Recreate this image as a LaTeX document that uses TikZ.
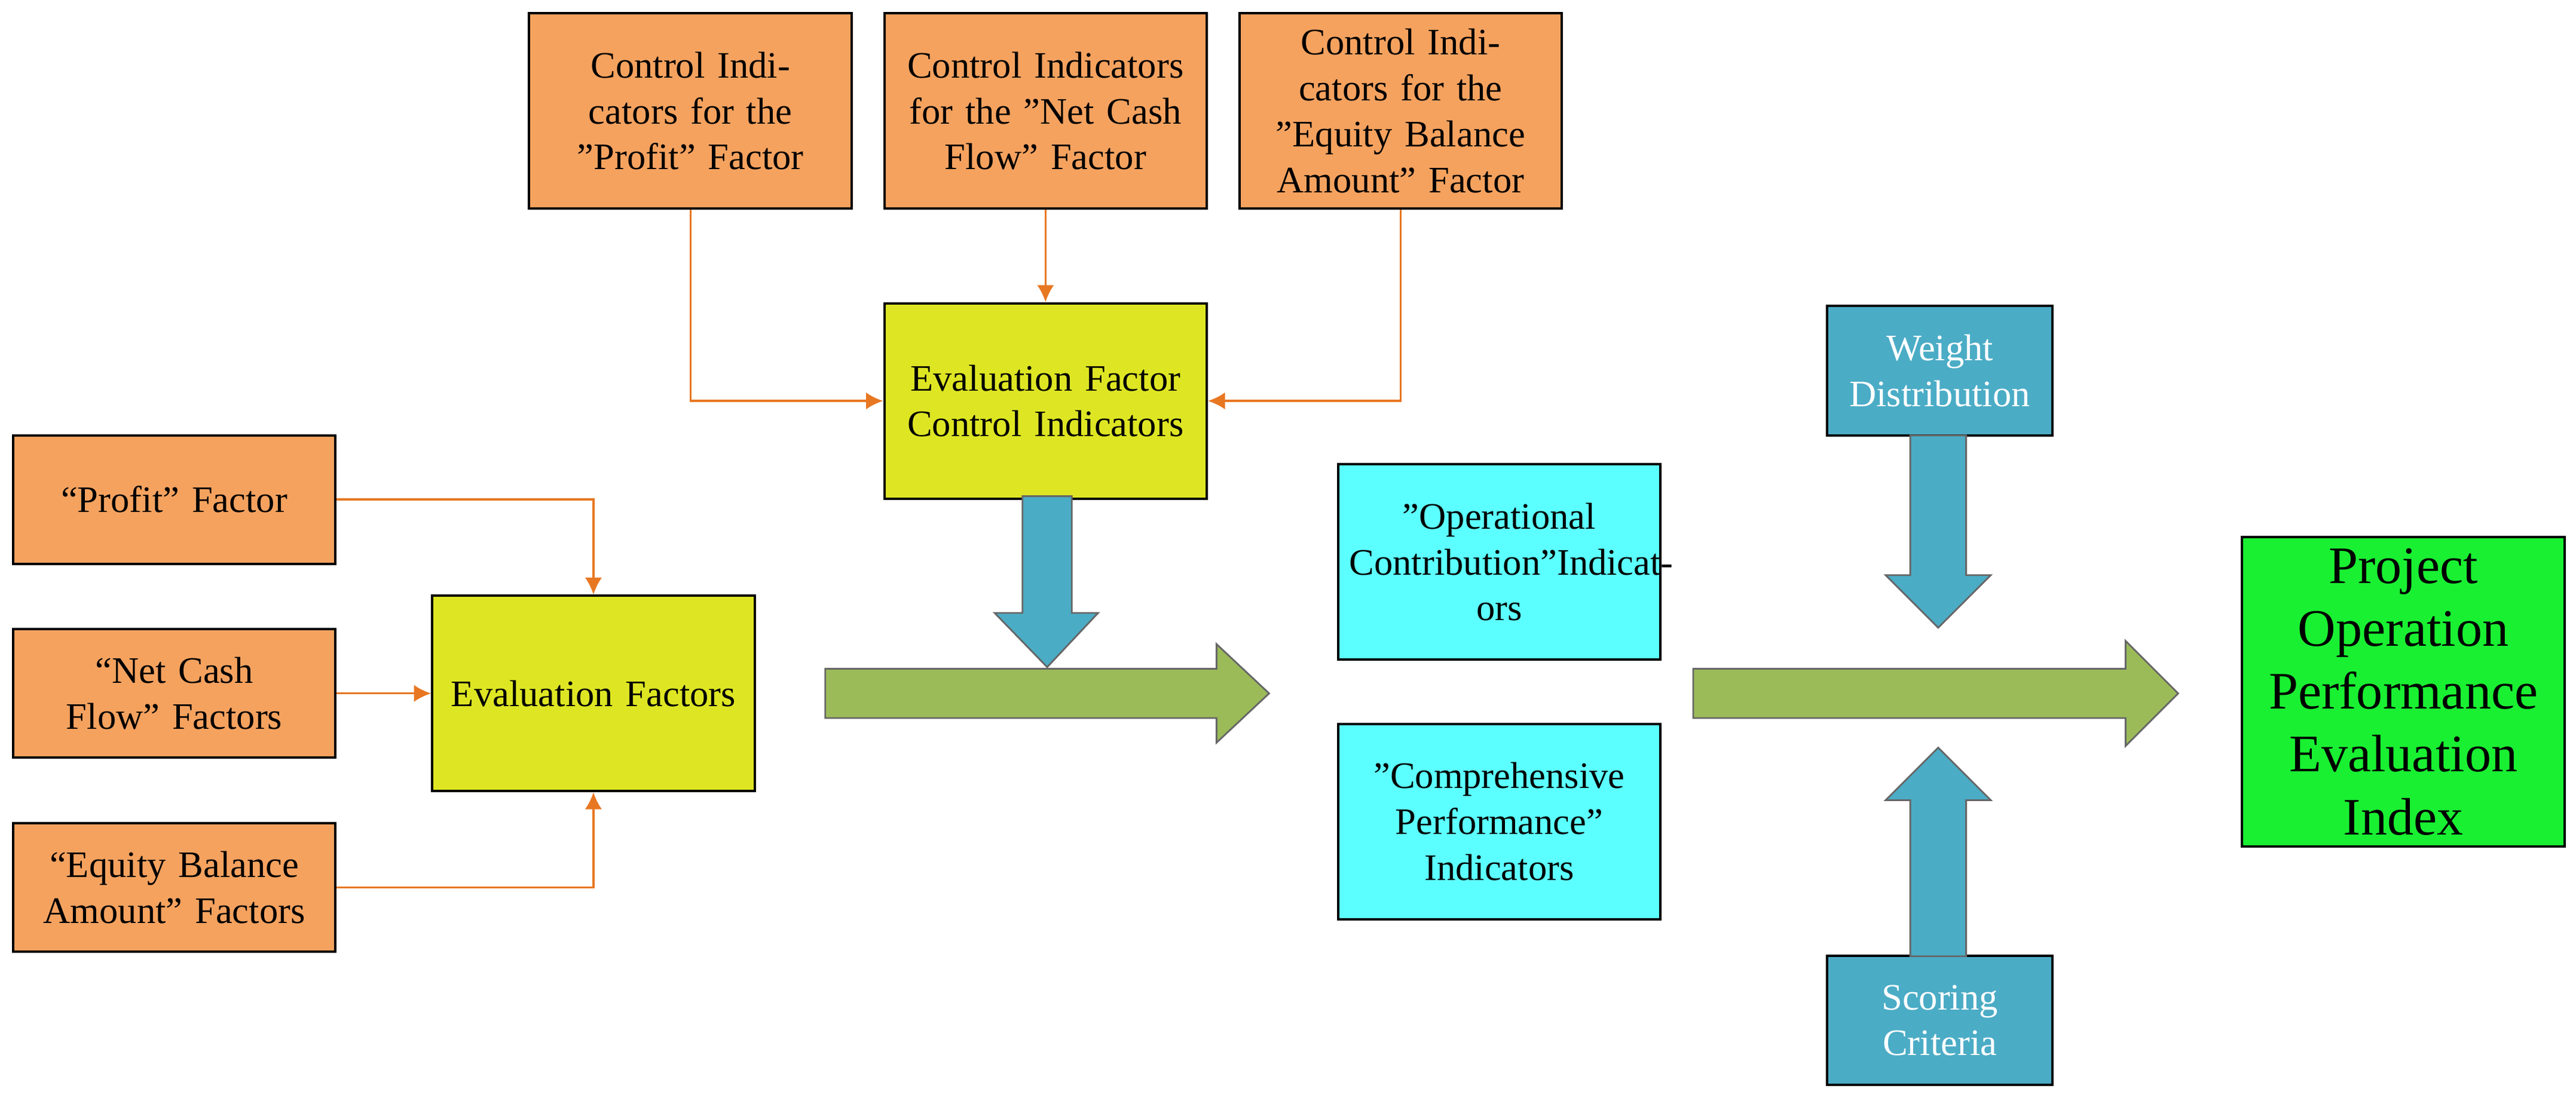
\documentclass[tikz,border=0pt]{standalone}
\usepackage{fontspec}
\setmainfont{Liberation Serif}
\usepackage{xcolor}
\usetikzlibrary{arrows.meta}
\definecolor{boxorange}{RGB}{245,162,95}
\definecolor{boxyellow}{RGB}{222,230,35}
\definecolor{boxcyan}{RGB}{92,255,255}
\definecolor{boxblue}{RGB}{75,172,198}
\definecolor{boxgreen}{RGB}{25,240,50}
\definecolor{fatgreen}{RGB}{155,187,89}
\definecolor{linkorange}{RGB}{232,119,34}

\begin{document}
\begin{tikzpicture}[x=0.017cm,y=-0.017cm,
    box/.style={draw=black,line width=0.7pt,minimum width=3.33cm,minimum height=2.02cm,
      text width=3.1cm,align=center,font=\fontsize{11}{13.5}\selectfont},
    small/.style={box,minimum width=2.28cm,minimum height=1.34cm,text width=2.1cm},
    link/.style={draw=linkorange,line width=0.6pt,-{Latex[length=5pt,width=5pt]}},
    fat/.style={draw=black!60,line width=0.5pt}]
    \useasboundingbox (0,0) rectangle (1567,670);

    % control indicator boxes
    \node[box,fill=boxorange] (cprofit) at (420,67.5) {Control Indicators for the "Profit" Factor};
    \node[box,fill=boxorange] (ccash) at (636,67.5) {Control Indicators for the "Net Cash Flow" Factor};
    \node[box,fill=boxorange] (cequity) at (852,67.5) {Control Indicators for the "Equity Balance Amount" Factor};
    \node[box,fill=boxyellow] (efci) at (636,244) {Evaluation Factor Control Indicators};

    % factor boxes
    \node[box,fill=boxorange,minimum height=1.33cm] (profit) at (106,304) {``Profit'' Factor};
    \node[box,fill=boxorange,minimum height=1.33cm] (cash) at (106,422) {``Net Cash Flow'' Factors};
    \node[box,fill=boxorange,minimum height=1.33cm] (equity) at (106,540) {``Equity Balance Amount'' Factors};
    \node[box,fill=boxyellow] (factors) at (361,422) {Evaluation Factors};

    % indicators
    \node[box,fill=boxcyan] (opcon) at (912,342) {"Operational Contribution"Indicat\-ors};
    \node[box,fill=boxcyan] (comp) at (912,500) {"Comprehensive Performance" Indicators};
    \node[small,fill=boxblue,text=white] (weight) at (1180,225.5) {Weight Distribution};
    \node[small,fill=boxblue,text=white] (scoring) at (1180,621) {Scoring Criteria};
    \node[box,fill=boxgreen,minimum height=3.06cm,font=\fontsize{15.5}{18.5}\selectfont] (index) at (1462,421) {Project Operation Performance Evaluation Index};

    % connectors
    \draw[link] (cprofit.south) |- (efci.west);
    \draw[link] (ccash.south) -- (efci.north);
    \draw[link] (cequity.south) |- (efci.east);
    \draw[link] (profit.east) -| (factors.north);
    \draw[link] (cash.east) -- (factors.west);
    \draw[link] (equity.east) -| (factors.south);

    % fat arrows
    \draw[fat,fill=fatgreen] (502,407) -- (740,407) -- (740,392) -- (772,422) -- (740,452) -- (740,437) -- (502,437) -- cycle;
    \draw[fat,fill=fatgreen] (1030,407) -- (1293,407) -- (1293,390) -- (1325,422) -- (1293,454) -- (1293,437) -- (1030,437) -- cycle;
    \draw[fat,fill=boxblue] (622,302) -- (652,302) -- (652,373) -- (668,373) -- (637,406) -- (605,373) -- (622,373) -- cycle;
    \draw[fat,fill=boxblue] (1162,265) -- (1196,265) -- (1196,350) -- (1211,350) -- (1179,382) -- (1147,350) -- (1162,350) -- cycle;
    \draw[fat,fill=boxblue] (1162,582) -- (1196,582) -- (1196,487) -- (1211,487) -- (1179,455) -- (1147,487) -- (1162,487) -- cycle;
\end{tikzpicture}
\end{document}
